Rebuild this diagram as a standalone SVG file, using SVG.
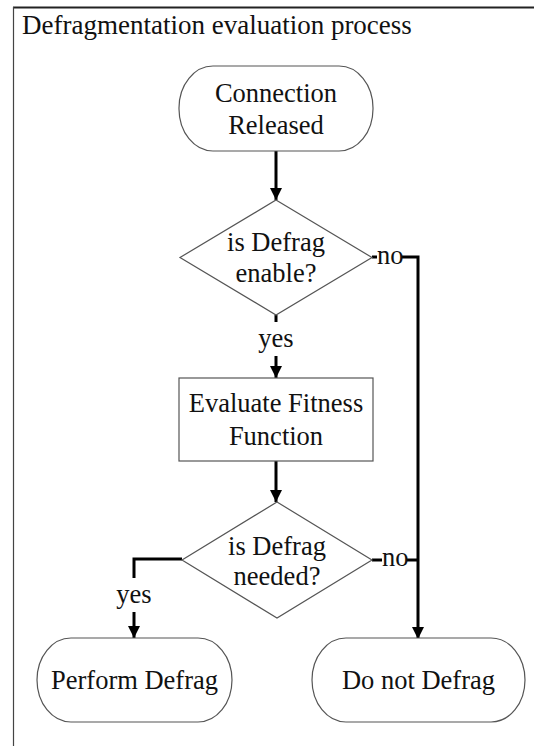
<svg xmlns="http://www.w3.org/2000/svg" width="534" height="746" viewBox="0 0 534 746">
<defs>
<style>
text{font-family:'Liberation Serif','Tinos','Times New Roman','DejaVu Serif',serif;font-size:26.5px;fill:#111}
.t{text-anchor:middle}
.s{fill:#fff;stroke:#555;stroke-width:1.2}
.c{fill:none;stroke:#000;stroke-width:3}
</style>
<marker id="ah" markerUnits="userSpaceOnUse" markerWidth="12" markerHeight="14" refX="12" refY="6" orient="auto">
<path d="M0,0 L12,6 L0,12 Z" fill="#000"/>
</marker>
</defs>
<rect width="534" height="746" fill="#fff"/>
<g id="frame">
<line x1="13" y1="7.5" x2="534" y2="7.5" stroke="#222" stroke-width="2"/>
<line x1="13.5" y1="7" x2="13.5" y2="746" stroke="#444" stroke-width="1.2"/>
<text x="22" y="34" font-family="Liberation Serif, serif" style="font-size:27px">Defragmentation evaluation process</text>
</g>
<g id="connectors">
<path class="c" d="M276,151 V200" marker-end="url(#ah)"/>
<path class="c" d="M276,315 V322"/>
<path class="c" d="M276,356 V378" marker-end="url(#ah)"/>
<path class="c" d="M276,461 V502" marker-end="url(#ah)"/>
<path class="c" d="M372,257 H377"/>
<path class="c" d="M402,257 H418 V639" marker-end="url(#ah)"/>
<path class="c" d="M372,560 H382"/>
<path class="c" d="M407,560 H418"/>
<path class="c" d="M182,559 H134 V578"/>
<path class="c" d="M134,612 V638" marker-end="url(#ah)"/>
<text class="t" x="276" y="347">yes</text>
<text x="377" y="264">no</text>
<text x="382" y="566">no</text>
<text class="t" x="134" y="603">yes</text>
</g>
<g id="start">
<rect class="s" x="179" y="66" width="194" height="85" rx="34" ry="42"/>
<text class="t" x="276" y="102">Connection</text>
<text class="t" x="276" y="134">Released</text>
</g>
<g id="decision1">
<polygon class="s" points="276,200 372,257.5 276,315 180,257.5"/>
<text class="t" x="276" y="251">is Defrag</text>
<text class="t" x="276" y="282">enable?</text>
</g>
<g id="evaluate">
<rect class="s" x="179" y="378" width="194" height="83"/>
<text class="t" x="276" y="412">Evaluate Fitness</text>
<text class="t" x="276" y="445">Function</text>
</g>
<g id="decision2">
<polygon class="s" points="277,502 372,560 277,618 182,560"/>
<text class="t" x="277" y="555">is Defrag</text>
<text class="t" x="277" y="585">needed?</text>
</g>
<g id="perform">
<rect class="s" x="37" y="638" width="195" height="84" rx="34" ry="42"/>
<text class="t" x="134.5" y="689">Perform Defrag</text>
</g>
<g id="donot">
<rect class="s" x="312" y="638" width="213" height="84" rx="34" ry="42"/>
<text class="t" x="418.5" y="689">Do not Defrag</text>
</g>
</svg>
